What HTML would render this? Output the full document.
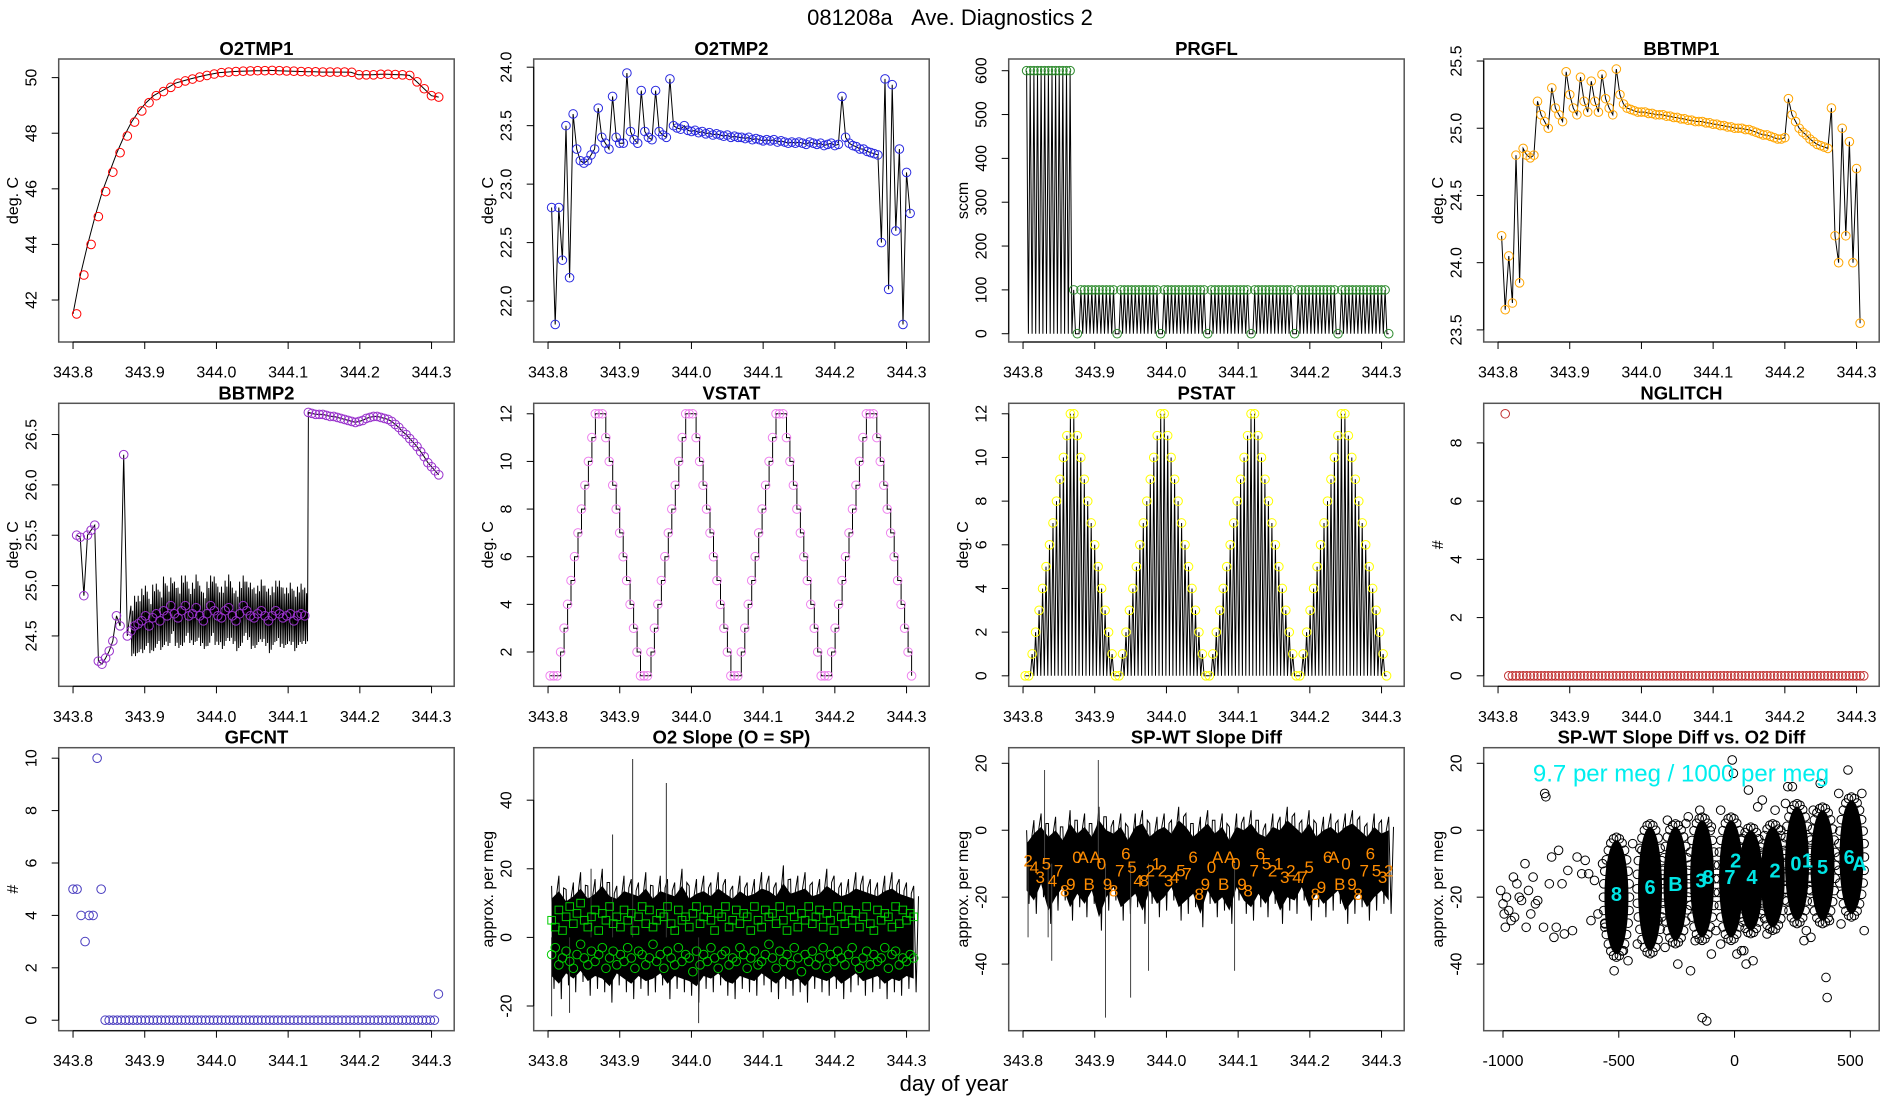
<!DOCTYPE html>
<html><head><meta charset="utf-8"><title>081208a Ave. Diagnostics 2</title>
<style>
html,body{margin:0;padding:0;background:#fff;}
svg{display:block;font-family:"Liberation Sans",Arial,sans-serif;}
</style></head>
<body>
<svg id="chart" width="1900" height="1100" viewBox="0 0 1900 1100">
<rect x="0" y="0" width="1900" height="1100" fill="#fff"/>
<text x="950" y="25" font-size="22" text-anchor="middle">081208a&#160;&#160;&#160;Ave. Diagnostics 2</text>
<text x="954" y="1091" font-size="22" text-anchor="middle">day of year</text>
</svg>
<script>
// ---------- data ----------
const dayTicks=[343.8,343.9,344.0,344.1,344.2,344.3];
const o2tmp1=[41.5,42.9,44.0,45.0,45.9,46.6,47.3,47.9,48.4,48.8,49.1,49.35,49.5,49.65,49.8,49.88,49.95,50.02,50.08,50.13,50.18,50.2,50.22,50.23,50.24,50.25,50.25,50.26,50.25,50.24,50.23,50.22,50.21,50.21,50.2,50.2,50.2,50.2,50.19,50.1,50.1,50.1,50.12,50.12,50.11,50.1,50.08,49.85,49.6,49.35,49.3];
const o2tmp2=[22.8,21.8,22.8,22.35,23.5,22.2,23.6,23.3,23.2,23.18,23.2,23.25,23.3,23.65,23.4,23.35,23.3,23.75,23.4,23.35,23.35,23.95,23.45,23.38,23.35,23.8,23.45,23.4,23.38,23.8,23.45,23.42,23.4,23.9,23.5,23.48,23.47,23.5,23.46,
23.45,23.46,23.44,23.45,23.43,23.44,23.42,23.43,23.42,23.41,23.42,23.4,23.41,23.4,23.4,23.39,23.4,23.38,23.39,23.38,23.37,23.38,23.37,23.38,23.36,23.37,23.36,23.35,23.36,23.35,23.36,
23.35,23.34,23.36,23.35,23.34,23.35,23.33,23.34,23.35,23.33,23.34,
23.75,23.4,23.35,23.33,23.32,23.3,23.3,23.28,23.27,23.26,23.25,22.5,23.9,22.1,23.85,22.6,23.3,21.8,23.1,22.75];
const prgfl=[600,600,600,600,600,600,600,600,600,600,600,600,600,100,0,100,100,100,100,100,100,100,100,100,100,0,100,100,100,100,100,100,100,100,100,100,100,0,100,100,100,100,100,100,100,100,100,100,100,100,0,100,100,100,100,100,100,100,100,100,100,100,0,100,100,100,100,100,100,100,100,100,100,100,0,100,100,100,100,100,100,100,100,100,100,100,0,100,100,100,100,100,100,100,100,100,100,100,100,100,0];
const bbtmp1=[24.2,23.65,24.05,23.7,24.8,23.85,24.85,24.8,24.78,24.8,25.2,25.1,25.05,25.0,25.3,25.15,25.1,25.05,25.42,25.25,25.15,25.1,25.38,25.2,25.12,25.35,25.2,25.12,25.4,25.22,25.15,25.1,25.44,25.25,25.18,25.15,25.14,25.13,25.12,
25.12,25.12,25.11,25.11,25.1,25.1,25.1,25.09,25.09,25.08,25.08,25.07,25.07,25.06,25.06,25.05,25.05,25.05,25.04,25.04,25.03,25.03,25.02,25.02,25.01,25.01,25.0,25.0,25.0,24.99,24.99,24.98,24.97,24.96,24.95,24.95,24.94,24.93,24.92,24.92,24.93,
25.22,25.1,25.05,25.0,24.97,24.95,24.92,24.9,24.88,24.87,24.86,24.85,25.15,24.2,24.0,25.0,24.2,24.9,24.0,24.7,23.55];
const bbtmp2=[25.5,25.48,24.9,25.5,25.55,25.6,24.25,24.22,24.28,24.35,24.45,24.7,24.6,26.3,24.5,
24.55,24.6,24.62,24.65,24.7,24.6,24.68,24.72,24.65,24.75,24.7,24.8,24.72,24.68,24.75,24.8,24.7,24.72,24.78,24.7,24.65,24.72,24.8,24.75,24.7,24.68,24.75,24.78,24.7,24.65,24.72,24.8,24.75,24.7,24.68,24.72,24.75,24.7,24.65,24.7,24.75,24.72,24.68,24.7,24.72,24.65,24.7,24.72,24.7,
26.72,26.71,26.7,26.7,26.7,26.69,26.68,26.68,26.67,26.66,26.65,26.64,26.63,26.62,26.63,26.64,26.66,26.67,26.68,26.68,26.67,26.66,26.65,26.63,26.6,26.57,26.53,26.5,26.46,26.42,26.38,26.33,26.28,26.22,26.18,26.14,26.1];
const bbtmp2Spread=[0,0,0,0,0,0,0,0,0,0,0,0,0,0,0,
0.25,0.3,0.28,0.32,0.3,0.27,0.33,0.3,0.29,0.34,0.3,0.28,0.32,0.3,0.35,0.3,0.27,0.31,0.33,0.3,0.28,0.32,0.3,0.34,0.29,0.31,0.3,0.33,0.28,0.3,0.32,0.3,0.29,0.33,0.3,0.28,0.31,0.3,0.32,0.29,0.3,0.33,0.3,0.28,0.31,0.3,0.29,0.3,0.28,
0,0,0,0,0,0,0,0,0,0,0,0,0,0,0,0,0,0,0,0,0,0,0,0,0,0,0,0,0,0,0,0,0,0,0,0,0];
const vstat=[1,1,1,2,3,4,5,6,7,8,9,10,11,12,12,12,11,10,9,8,7,6,5,4,3,2,
1,1,1,2,3,4,5,6,7,8,9,10,11,12,12,12,11,10,9,8,7,6,5,4,3,2,
1,1,1,2,3,4,5,6,7,8,9,10,11,12,12,12,11,10,9,8,7,6,5,4,3,2,
1,1,1,2,3,4,5,6,7,8,9,10,11,12,12,12,11,10,9,8,7,6,5,4,3,2,1];
const pstat=[0,0,1,2,3,4,5,6,7,8,9,10,11,12,12,11,10,9,8,7,6,5,4,3,2,1,
0,0,1,2,3,4,5,6,7,8,9,10,11,12,12,11,10,9,8,7,6,5,4,3,2,1,
0,0,1,2,3,4,5,6,7,8,9,10,11,12,12,11,10,9,8,7,6,5,4,3,2,1,
0,0,1,2,3,4,5,6,7,8,9,10,11,12,12,11,10,9,8,7,6,5,4,3,2,1,0];
const nglitch=[9,0,0,0,0,0,0,0,0,0,0,0,0,0,0,0,0,0,0,0,0,0,0,0,0,0,0,0,0,0,0,0,0,0,0,0,0,0,0,0,0,0,0,0,0,0,0,0,0,0,0,0,0,0,0,0,0,0,0,0,0,0,0,0,0,0,0,0,0,0,0,0,0,0,0,0,0,0,0,0,0,0,0,0,0,0,0,0,0,0,0,0,0,0,0,0,0,0,0,0,0];
const gfcnt=[5,5,4,3,4,4,10,5,0,0,0,0,0,0,0,0,0,0,0,0,0,0,0,0,0,0,0,0,0,0,0,0,0,0,0,0,0,0,0,0,0,0,0,0,0,0,0,0,0,0,0,0,0,0,0,0,0,0,0,0,0,0,0,0,0,0,0,0,0,0,0,0,0,0,0,0,0,0,0,0,0,0,0,0,0,0,0,0,0,0,0,1];
const slopeHi=[15,18,14,16,19,15,17,20,16,15,18,17,16,19,15,18,17,16,20,15,17,18,16,19,17,15,18,16,17,19,18,16,21,17,18,19,16,17,20,18,16,17,19,18,17,16,18,19,17,16,15];
const slopeLo=[-15,-18,-14,-16,-13,-17,-15,-16,-19,-14,-16,-18,-15,-17,-16,-14,-18,-15,-16,-17,-19,-15,-16,-14,-17,-18,-15,-16,-17,-14,-16,-18,-15,-17,-16,-19,-15,-16,-17,-15,-18,-16,-14,-17,-16,-15,-18,-16,-17,-15,-16];
const slopeSpikeT=[343.805,343.86,343.89,343.918,343.965,344.01,343.83];
const slopeSpikeV=[-23,20,30,52,45,-25,-22];
const slopeSquares=[5,3,8,2,6,9,4,7,10,5,3,6,8,2,7,5,9,4,6,3,8,5,7,2,6,9,4,8,3,5,7,6,9,4,2,8,5,6,3,7,9,4,6,8,5,2,7,6,9,3,5,8,4,7,6,2,9,5,3,8,6,7,4,9,5,2,8,6,3,7,5,9,4,6,8,3,7,5,2,9,6,4,8,5,7,3,6,9,4,2,8,5,7,6,3,9,4,8,5,7,6];
const slopeCircles=[-5,-3,-8,-6,-4,-7,-9,-5,-2,-6,-8,-4,-7,-5,-3,-9,-6,-4,-8,-5,-7,-3,-6,-9,-4,-5,-8,-6,-2,-7,-5,-9,-4,-6,-8,-3,-7,-5,-6,-10,-4,-8,-5,-7,-3,-6,-9,-5,-4,-8,-6,-7,-3,-5,-9,-6,-4,-8,-7,-5,-2,-6,-9,-4,-7,-5,-8,-3,-6,-10,-5,-7,-4,-8,-6,-3,-9,-5,-7,-4,-6,-8,-5,-3,-7,-9,-6,-4,-8,-5,-7,-6,-3,-9,-5,-4,-8,-6,-7,-5,-6];
const diffHi=[0,3,5,2,4,1,6,3,5,2,7,4,3,5,1,5,6,2,4,5,3,7,5,2,4,6,3,5,1,5,4,6,3,2,5,4,7,5,3,6,2,4,5,3,5,6,4,2,5,3,4];
const diffLo=[-22,-25,-20,-28,-24,-21,-27,-23,-26,-22,-30,-24,-21,-27,-25,-23,-28,-22,-26,-24,-21,-27,-25,-23,-29,-22,-26,-24,-28,-21,-25,-27,-23,-26,-22,-28,-24,-25,-21,-27,-23,-26,-24,-22,-28,-25,-23,-27,-24,-22,-25];
const diffSpikeT=[343.807,343.83,343.835,343.84,343.905,343.915,343.95,343.975,344.095];
const diffSpikeV=[-32,18,-32,-39,21,-56,-50,-42,-42];
const diffLabels=["2","4","3","5","4","7","8","9","0","A","B","A","0","9","8","7","6","5","4","8","2","1","2","3","4","5","7","6","8","9","0","A","B","A","0","9","8","7","6","5","2","1","3","2","4","7","5","8","9","6","A","B","0","9","8","7","6","5","3","2"];
const diffLabelV=[-9,-11,-14,-10,-15,-12,-18,-16,-8,-8,-16,-8,-10,-16,-18,-12,-7,-11,-15,-15,-12,-10,-12,-15,-14,-12,-13,-8,-19,-16,-11,-8,-16,-8,-10,-16,-18,-12,-7,-10,-12,-10,-14,-12,-14,-14,-11,-19,-17,-8,-8,-16,-10,-16,-19,-12,-7,-12,-14,-12];
const scatterTicks=[-1000,-500,0,500];
const ptX=[-1010,-1000,-995,-990,-985,-975,-965,-955,-950,-940,-930,-920,-905,-900,-890,-880,-870,-860,-850,-825,-800,-790,-780,-770,-760,-745,-735,-720,-700,-680,-660,-645,-630,-620,-605,-590,-570,-560,-820,-815,-200,-150,-100,-60,-10,-5,30,50,60,100,175,230,250,300,370,395,400,-140,-120,490,550,-520,-460,-190,-60,-480,-300,-245,-100,10,80,310,410,560,-400,-440,340,200,-330,-210,-80,120,220,450,-560,-420,-290,-170,40,140,330,460];
const ptY=[-18,-22,-25,-29,-20,-24,-27,-14,-26,-16,-20,-21,-10,-29,-18,-25,-14,-22,-21,-29,-16,-8,-32,-29,-6,-16,-31,-12,-30,-8,-13,-9,-13,-27,-15,-25,-10,-29,11,10,4,6,1,6,21,17,-36,-40,12,7,6,13,13,-33,14,-44,-50,-56,-57,18,11,-42,-39,-42,-34,-36,-35,-40,-37,-37,-39,-30,-27,-30,-6,-4,6,0,-27,2,-30,9,8,11,-28,-34,3,-33,-36,-31,-32,-28];
const clusterX=[-510,-365,-255,-140,-15,70,165,270,380,505];
const clusterLo=[-37,-36,-33,-32,-32,-30,-29,-27,-27,-25];
const clusterHi=[-3,1,1,3,3,0,1,7,6,9];
const cyanLabels=["8","6","B","3","8","7","2","4","2","0","1","5","6","A"];
const cyanX=[-510,-365,-255,-145,-115,-20,5,75,175,265,315,380,495,540];
const cyanY=[-19,-17,-16,-15,-14,-14,-9,-14,-12,-10,-9,-11,-8,-10];

// ---------- layout ----------
const NS='http://www.w3.org/2000/svg';
const svg=document.getElementById('chart');
const COLX=[58.7,533.7,1008.7,1483.7], ROWY=[59,403.3,747.7], W=395.5, H=283;
const DAYX=[343.78,344.3316];
function mk(tag,attrs,name,parent){
  const el=document.createElementNS(NS,tag);
  for(const k in attrs) el.setAttribute(k,attrs[k]);
  
  
  (parent||svg).appendChild(el);
  return el;
}
function panel(id,col,row,title,ylab,xlim,ylim,xt,yt,xdec,ydec){
  const L=COLX[col],T=ROWY[row];
  const g=mk('g',{},id+'-panel');
  const sx=v=>L+(v-xlim[0])/(xlim[1]-xlim[0])*W;
  const sy=v=>T+H-(v-ylim[0])/(ylim[1]-ylim[0])*H;
  const clip=mk('clipPath',{id:'clip-'+id},id+'-clip',g);
  mk('rect',{x:L,y:T,width:W,height:H},id+'-clip-rect',clip);
  const plot=mk('g',{'clip-path':'url(#clip-'+id+')'},id+'-plot-area',g);
  mk('rect',{x:L,y:T,width:W,height:H,fill:'none',stroke:'#555','stroke-width':1.5},id+'-frame',g);
  mk('text',{x:L+W/2,y:T-4,'font-size':18.5,'font-weight':'bold','text-anchor':'middle'},id+'-title',g).textContent=title;
  const B=T+H;
  mk('line',{x1:sx(xt[0]),x2:sx(xt[xt.length-1]),y1:B,y2:B,stroke:'#000','stroke-width':1},id+'-x-axis-line',g);
  xt.forEach(v=>{
    mk('line',{x1:sx(v),x2:sx(v),y1:B,y2:B+7,stroke:'#000'},id+'-x-tick',g);
    mk('text',{x:sx(v),y:B+35.5,'font-size':16,'text-anchor':'middle'},id+'-x-tick-label',g).textContent=v.toFixed(xdec);
  });
  mk('line',{x1:L,x2:L,y1:sy(yt[0]),y2:sy(yt[yt.length-1]),stroke:'#000'},id+'-y-axis-line',g);
  yt.forEach(v=>{
    mk('line',{x1:L-7,x2:L,y1:sy(v),y2:sy(v),stroke:'#000'},id+'-y-tick',g);
    const tx=L-22, ty=sy(v);
    mk('text',{x:tx,y:ty,'font-size':16,'text-anchor':'middle',transform:'rotate(-90 '+tx+' '+ty+')'},id+'-y-tick-label',g).textContent=v.toFixed(ydec);
  });
  const lx=L-40.7, ly=T+H/2;
  mk('text',{x:lx,y:ly,'font-size':16,'text-anchor':'middle',transform:'rotate(-90 '+lx+' '+ly+')'},id+'-y-axis-title',g).textContent=ylab;
  return {g:plot,sx,sy};
}
function tAt(t0,t1,n,i){return t0+(t1-t0)*i/(n-1);}
function linePts(arr,t0,t1,P){return arr.map((v,i)=>P.sx(tAt(t0,t1,arr.length,i)).toFixed(1)+','+P.sy(v).toFixed(1)).join(' ');}
function circles(arr,t0,t1,P,color,name,r){
  arr.forEach((v,i)=>mk('circle',{cx:P.sx(tAt(t0,t1,arr.length,i)),cy:P.sy(v),r:r||4.3,fill:'none',stroke:color,'stroke-width':1},name,P.g));
}
function zigzag(arr,t0,t1,P,base,name){
  const n=arr.length, dt=(t1-t0)/(n-1); const pts=[];
  arr.forEach((v,i)=>{const t=tAt(t0,t1,n,i);pts.push(P.sx(t).toFixed(1)+','+P.sy(v).toFixed(1));if(i<n-1)pts.push(P.sx(t+dt/2).toFixed(1)+','+P.sy(base).toFixed(1));});
  mk('polyline',{points:pts.join(' '),fill:'none',stroke:'#000','stroke-width':1},name,P.g);
}

// 1 O2TMP1
let P=panel('o2tmp1',0,0,'O2TMP1','deg. C',DAYX,[40.49,50.67],dayTicks,[42,44,46,48,50],1,0);
mk('polyline',{points:linePts(o2tmp1,343.8,344.31,P),fill:'none',stroke:'#000'},'o2tmp1-line',P.g);
circles(o2tmp1,343.805,344.31,P,'#ff0000','o2tmp1-point');

// 2 O2TMP2
P=panel('o2tmp2',1,0,'O2TMP2','deg. C',DAYX,[21.65,24.07],dayTicks,[22,22.5,23,23.5,24],1,1);
mk('polyline',{points:linePts(o2tmp2,343.805,344.305,P),fill:'none',stroke:'#000'},'o2tmp2-line',P.g);
circles(o2tmp2,343.805,344.305,P,'#2a2ae0','o2tmp2-point');

// 3 PRGFL
P=panel('prgfl',2,0,'PRGFL','sccm',DAYX,[-18.9,626.7],dayTicks,[0,100,200,300,400,500,600],1,0);
zigzag(prgfl,343.805,344.31,P,0,'prgfl-line');
circles(prgfl,343.805,344.31,P,'#2e8b2e','prgfl-point');

// 4 BBTMP1
P=panel('bbtmp1',3,0,'BBTMP1','deg. C',DAYX,[23.41,25.515],dayTicks,[23.5,24,24.5,25,25.5],1,1);
mk('polyline',{points:linePts(bbtmp1,343.805,344.305,P),fill:'none',stroke:'#000'},'bbtmp1-line',P.g);
circles(bbtmp1,343.805,344.305,P,'#ffa500','bbtmp1-point');

// 5 BBTMP2
P=panel('bbtmp2',0,1,'BBTMP2','deg. C',DAYX,[24.0,26.81],dayTicks,[24.5,25,25.5,26,26.5],1,1);
(function(){const n=bbtmp2.length,t0=343.805,t1=344.31,dt=(t1-t0)/(n-1);const pts=[];
bbtmp2.forEach((v,i)=>{const t=tAt(t0,t1,n,i),s=bbtmp2Spread[i];pts.push(P.sx(t).toFixed(1)+','+P.sy(v+s).toFixed(1));if(s>0){pts.push(P.sx(t+dt/4).toFixed(1)+','+P.sy(v-s).toFixed(1));pts.push(P.sx(t+dt/2).toFixed(1)+','+P.sy(v+s*0.8).toFixed(1));pts.push(P.sx(t+3*dt/4).toFixed(1)+','+P.sy(v-s*0.9).toFixed(1));}});
mk('polyline',{points:pts.join(' '),fill:'none',stroke:'#000','stroke-width':1},'bbtmp2-line',P.g);})();
circles(bbtmp2,343.805,344.31,P,'#9932cc','bbtmp2-point');

// 6 VSTAT
P=panel('vstat',1,1,'VSTAT','deg. C',DAYX,[0.56,12.44],dayTicks,[2,4,6,8,10,12],1,0);
(function(){const n=vstat.length,t0=343.803,t1=344.307;const pts=[];
vstat.forEach((v,i)=>{const t=tAt(t0,t1,n,i);if(i>0)pts.push(P.sx(t).toFixed(1)+','+P.sy(vstat[i-1]).toFixed(1));pts.push(P.sx(t).toFixed(1)+','+P.sy(v).toFixed(1));});
mk('polyline',{points:pts.join(' '),fill:'none',stroke:'#000'},'vstat-line',P.g);})();
circles(vstat,343.803,344.307,P,'#ee82ee','vstat-point');

// 7 PSTAT
P=panel('pstat',2,1,'PSTAT','deg. C',DAYX,[-0.48,12.48],dayTicks,[0,2,4,6,8,10,12],1,0);
zigzag(pstat,343.803,344.307,P,0,'pstat-line');
circles(pstat,343.803,344.307,P,'#ffff00','pstat-point');

// 8 NGLITCH
P=panel('nglitch',3,1,'NGLITCH','#',DAYX,[-0.36,9.36],dayTicks,[0,2,4,6,8],1,0);
circles(nglitch,343.81,344.31,P,'#c03030','nglitch-point');

// 9 GFCNT
P=panel('gfcnt',0,2,'GFCNT','#',DAYX,[-0.4,10.4],dayTicks,[0,2,4,6,8,10],1,0);
circles(gfcnt,343.8,344.3096,P,'#4b3fc0','gfcnt-point');

// 10 O2 Slope
P=panel('o2slope',1,2,'O2 Slope (O = SP)','approx. per meg',DAYX,[-27.2,55.3],dayTicks,[-20,0,20,40],1,0);
(function(){const n=slopeHi.length,t0=343.805,t1=344.31,dt=(t1-t0)/(n-1);const pts=[];
slopeHi.forEach((v,i)=>{const t=tAt(t0,t1,n,i);pts.push(P.sx(t).toFixed(1)+','+P.sy(v).toFixed(1));pts.push(P.sx(t+dt*0.33).toFixed(1)+','+P.sy(slopeLo[i]).toFixed(1));pts.push(P.sx(t+dt*0.66).toFixed(1)+','+P.sy(v*0.8).toFixed(1));});
mk('polyline',{points:pts.join(' '),fill:'none',stroke:'#000','stroke-width':1},'o2slope-noise-line',P.g);
const poly=slopeHi.map((v,i)=>P.sx(tAt(t0,t1,n,i)).toFixed(1)+','+P.sy(v*0.75).toFixed(1)).concat(slopeLo.map((v,i)=>P.sx(tAt(t0,t1,n,i)).toFixed(1)+','+P.sy(v*0.75).toFixed(1)).reverse());
mk('polygon',{points:poly.join(' '),fill:'#000'},'o2slope-noise-band',P.g);
slopeSpikeT.forEach((t,i)=>mk('line',{x1:P.sx(t),x2:P.sx(t),y1:P.sy(0),y2:P.sy(slopeSpikeV[i]),stroke:'#333'},'o2slope-spike',P.g));
slopeSquares.forEach((v,i)=>{const x=P.sx(tAt(343.805,344.31,slopeSquares.length,i)),y=P.sy(v);mk('rect',{x:x-3.8,y:y-3.8,width:7.6,height:7.6,fill:'none',stroke:'#00cd00'},'o2slope-square-point',P.g);});
})();
circles(slopeCircles,343.805,344.31,P,'#00cd00','o2slope-circle-point');

// 11 SP-WT Slope Diff
P=panel('spwt',2,2,'SP-WT Slope Diff','approx. per meg',DAYX,[-59.9,24.66],dayTicks,[-40,-20,0,20],1,0);
(function(){const n=diffHi.length,t0=343.805,t1=344.31,dt=(t1-t0)/(n-1);const pts=[];
diffHi.forEach((v,i)=>{const t=tAt(t0,t1,n,i);pts.push(P.sx(t).toFixed(1)+','+P.sy(v).toFixed(1));pts.push(P.sx(t+dt*0.33).toFixed(1)+','+P.sy(diffLo[i]).toFixed(1));pts.push(P.sx(t+dt*0.66).toFixed(1)+','+P.sy(v-3).toFixed(1));});
mk('polyline',{points:pts.join(' '),fill:'none',stroke:'#000','stroke-width':1},'spwt-noise-line',P.g);
const poly=diffHi.map((v,i)=>P.sx(tAt(t0,t1,n,i)).toFixed(1)+','+P.sy(v-4).toFixed(1)).concat(diffLo.map((v,i)=>P.sx(tAt(t0,t1,n,i)).toFixed(1)+','+P.sy(v+4).toFixed(1)).reverse());
mk('polygon',{points:poly.join(' '),fill:'#000'},'spwt-noise-band',P.g);
diffSpikeT.forEach((t,i)=>mk('line',{x1:P.sx(t),x2:P.sx(t),y1:P.sy(-10),y2:P.sy(diffSpikeV[i]),stroke:'#444'},'spwt-spike',P.g));
diffLabels.forEach((c,i)=>{mk('text',{x:P.sx(tAt(343.807,344.31,diffLabels.length,i)),y:P.sy(diffLabelV[i])+6,'font-size':17,'text-anchor':'middle',fill:'#ff8c00'},'spwt-label-point',P.g).textContent=c;});
})();

// 12 scatter
P=panel('scatter',3,2,'SP-WT Slope Diff vs. O2 Diff','approx. per meg',[-1083.4,624.8],[-59.9,24.66],scatterTicks,[-40,-20,0,20],0,0);
ptX.forEach((x,i)=>mk('circle',{cx:P.sx(x),cy:P.sy(ptY[i]),r:4.3,fill:'none',stroke:'#000'},'scatter-point',P.g));
clusterX.forEach((x,i)=>{
  const cx=P.sx(x), cy=(P.sy(clusterLo[i])+P.sy(clusterHi[i]))/2, ry=(P.sy(clusterLo[i])-P.sy(clusterHi[i]))/2;
  for(let k=0;k<28;k++){const a=k/28*2*Math.PI;
    const c=mk('circle',{cx:cx+Math.cos(a)*13,cy:cy+Math.sin(a)*(ry+3),r:4.3,fill:'none',stroke:'#000'},'scatter-cluster-edge-point',P.g);}
  mk('ellipse',{cx:cx,cy:cy,rx:12,ry:ry,fill:'#000'},'scatter-cluster',P.g);
});
cyanLabels.forEach((c,i)=>{mk('text',{x:P.sx(cyanX[i]),y:P.sy(cyanY[i])+7,'font-size':20,'font-weight':'bold','text-anchor':'middle',fill:'#00e5e5'},'scatter-cyan-label',P.g).textContent=c;});
mk('text',{x:1681,y:781.5,'font-size':24,'text-anchor':'middle',fill:'#00eeee'},'scatter-slope-annotation',P.g).textContent='9.7 per meg / 1000 per meg';
</script>
</body></html>
